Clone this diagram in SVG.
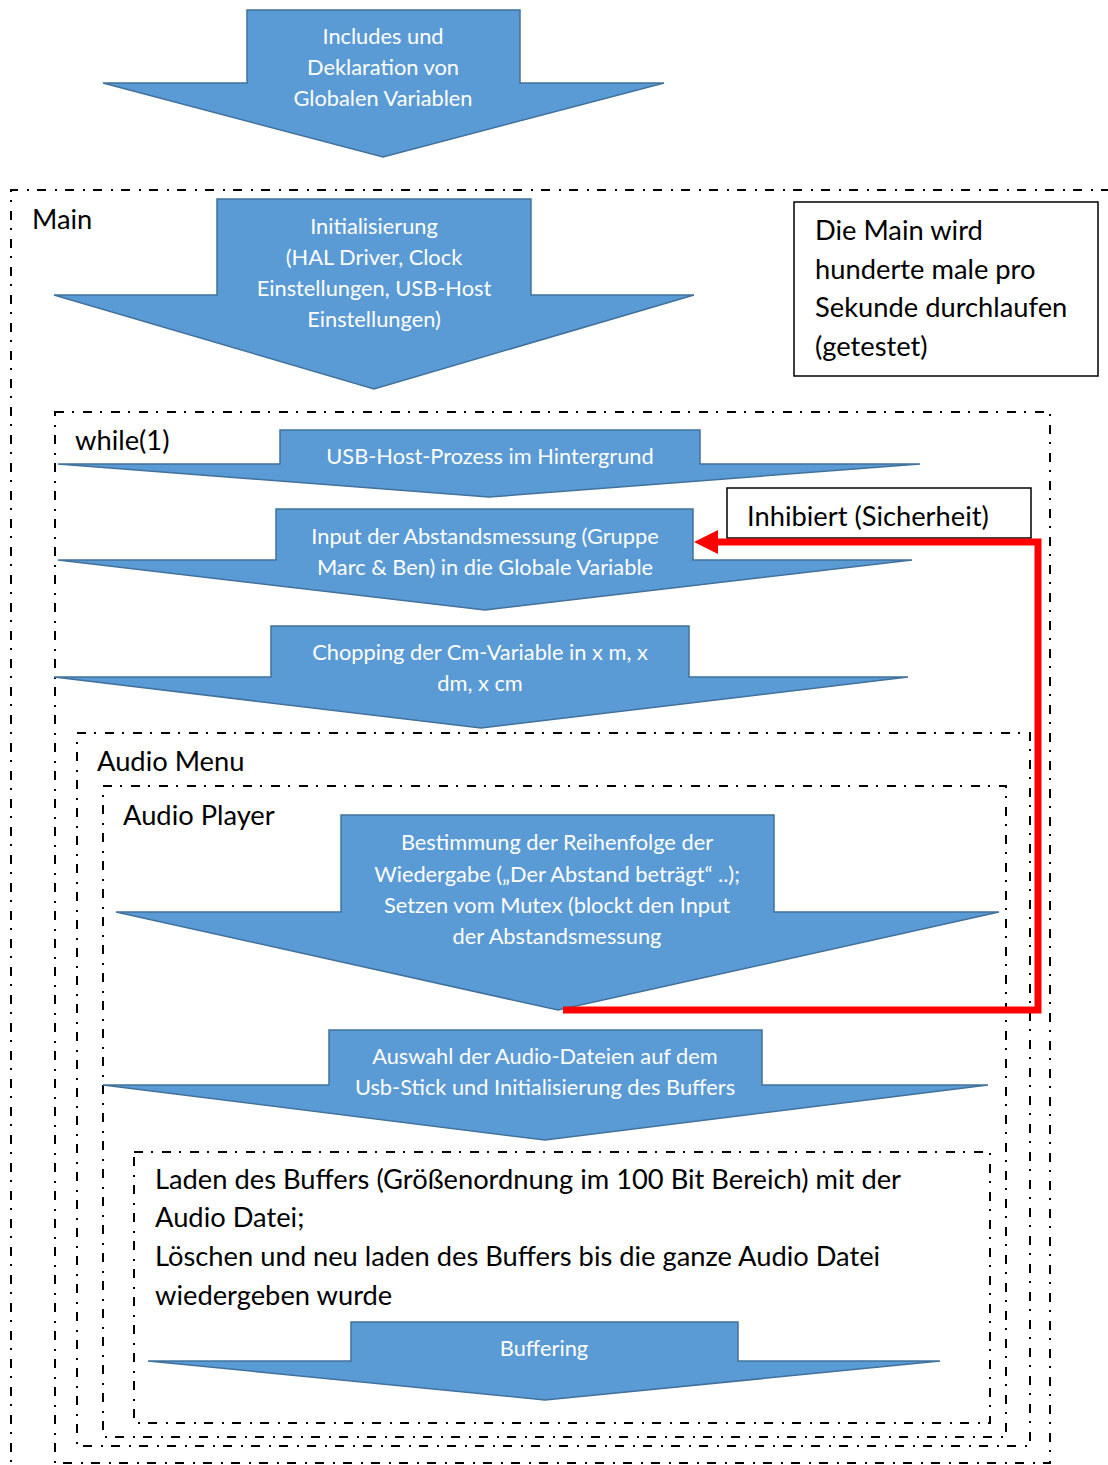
<svg xmlns="http://www.w3.org/2000/svg" width="1108" height="1465" viewBox="0 0 1108 1465">
<style>
.arrow{fill:#5B9BD5;stroke:#41719C;stroke-width:1.5;stroke-linejoin:miter}
.wt{font-family:Lato,"Liberation Sans",sans-serif;font-size:21.8px;fill:#FFFFFF;text-anchor:middle}
.bt{font-family:Lato,"Liberation Sans",sans-serif;font-size:27.3px;fill:#000000}
.frame{fill:none;stroke:#000000;stroke-width:2;stroke-dasharray:9 8 2 9}
.box{fill:#FFFFFF;stroke:#000000;stroke-width:1.5}
.conn{fill:none;stroke:#FF0000;stroke-width:7;stroke-linejoin:miter}
</style>
<defs>
<marker id="redhead" markerUnits="userSpaceOnUse" markerWidth="24" markerHeight="24" refX="0" refY="12" orient="auto" viewBox="0 0 24 24">
<path d="M0,0 L24,12 L0,24 Z" fill="#FF0000"/>
</marker>
</defs>
<rect width="1108" height="1465" fill="#FFFFFF"/>

<g id="frame-main">
<path class="frame" d="M1110,190 H11 V1470"/>
<text class="bt" x="32" y="229">Main</text>
</g>
<g id="frame-while">
<rect class="frame" x="55" y="412" width="995" height="1051"/>
<text class="bt" x="75" y="450">while(1)</text>
</g>
<g id="frame-audiomenu">
<rect class="frame" x="77" y="733" width="953" height="713"/>
<text class="bt" x="97" y="771">Audio Menu</text>
</g>
<g id="frame-audioplayer">
<rect class="frame" x="103" y="786" width="903" height="651"/>
<text class="bt" x="123" y="825">Audio Player</text>
</g>
<g id="frame-buffer">
<rect class="frame" x="134" y="1152" width="856" height="271"/>
<text class="bt" x="155" y="1189">Laden des Buffers (Größenordnung im 100 Bit Bereich) mit der</text>
<text class="bt" x="155" y="1227">Audio Datei;</text>
<text class="bt" x="155" y="1266">Löschen und neu laden des Buffers bis die ganze Audio Datei</text>
<text class="bt" x="155" y="1305">wiedergeben wurde</text>
</g>

<g id="node-includes">
<path class="arrow" d="M247,10 H520 V83 H664 L383,157 L103,83 H247 Z"/>
<text class="wt" x="383" y="44">Includes und</text>
<text class="wt" x="383" y="75">Deklaration von</text>
<text class="wt" x="383" y="106">Globalen Variablen</text>
</g>

<g id="node-init">
<path class="arrow" d="M217,199 H531 V295 H694 L374,389 L54,295 H217 Z"/>
<text class="wt" x="374" y="234">Initialisierung</text>
<text class="wt" x="374" y="265">(HAL Driver, Clock</text>
<text class="wt" x="374" y="296">Einstellungen, USB-Host</text>
<text class="wt" x="374" y="327">Einstellungen)</text>
</g>

<g id="note-main">
<rect class="box" x="794" y="202" width="304" height="174"/>
<text class="bt" x="815" y="240">Die Main wird</text>
<text class="bt" x="815" y="279">hunderte male pro</text>
<text class="bt" x="815" y="317">Sekunde durchlaufen</text>
<text class="bt" x="815" y="356">(getestet)</text>
</g>

<g id="node-usbhost">
<path class="arrow" d="M280,430 H700 V464 H920 L489,497 L58,464 H280 Z"/>
<text class="wt" x="490" y="464">USB-Host-Prozess im Hintergrund</text>
</g>

<g id="node-input">
<path class="arrow" d="M276,509 H693 V560 H912 L485,610 L58,560 H276 Z"/>
<text class="wt" x="485" y="544">Input der Abstandsmessung (Gruppe</text>
<text class="wt" x="485" y="575">Marc &amp; Ben) in die Globale Variable</text>
</g>

<g id="note-inhibit">
<rect class="box" x="727" y="488" width="304" height="50"/>
<text class="bt" x="747" y="526">Inhibiert (Sicherheit)</text>
</g>

<g id="node-chopping">
<path class="arrow" d="M271,626 H689 V677 H908 L481,728 L54,677 H271 Z"/>
<text class="wt" x="480" y="660">Chopping der Cm-Variable in x m, x</text>
<text class="wt" x="480" y="691">dm, x cm</text>
</g>

<g id="node-bestimmung">
<path class="arrow" d="M341,815 H774 V912 H999 L558,1010 L116,912 H341 Z"/>
<text class="wt" x="557" y="850">Bestimmung der Reihenfolge der</text>
<text class="wt" x="557" y="882">Wiedergabe („Der Abstand beträgt“ ..);</text>
<text class="wt" x="557" y="913">Setzen vom Mutex (blockt den Input</text>
<text class="wt" x="557" y="944">der Abstandsmessung</text>
</g>

<g id="node-auswahl">
<path class="arrow" d="M329,1030 H762 V1085 H988 L545,1140 L103,1085 H329 Z"/>
<text class="wt" x="545" y="1064">Auswahl der Audio-Dateien auf dem</text>
<text class="wt" x="545" y="1095">Usb-Stick und Initialisierung des Buffers</text>
</g>

<g id="node-buffering">
<path class="arrow" d="M351,1322 H738 V1361 H940 L545,1400 L148,1361 H351 Z"/>
<text class="wt" x="544" y="1356">Buffering</text>
</g>

<g id="connectors">
<path class="conn" d="M563,1010 H1038 V542 H718" marker-end="url(#redhead)"/>
</g>
</svg>
